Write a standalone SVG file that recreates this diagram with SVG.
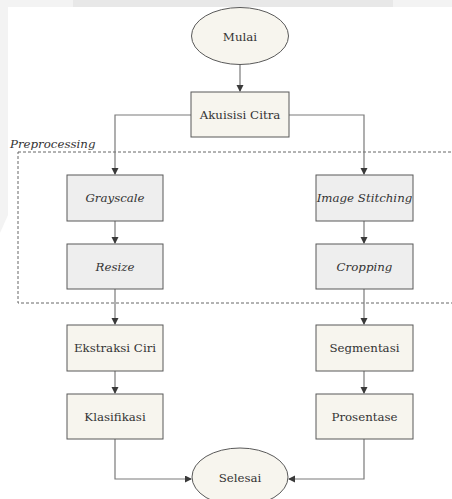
<svg xmlns="http://www.w3.org/2000/svg" width="452" height="499" viewBox="0 0 452 499">
<style>
.bg{fill:#ffffff}
.box{fill:#f7f5ee;stroke:#595959;stroke-width:1}
.gbox{fill:#eeeeee;stroke:#595959;stroke-width:1}
.term{fill:#f7f5ee;stroke:#595959;stroke-width:1}
.c{fill:none;stroke:#7a7a7a;stroke-width:1.2}
.dash{fill:none;stroke:#666666;stroke-width:1;stroke-dasharray:3 2}
</style>
<defs>
<marker id="ah" markerWidth="8" markerHeight="8" refX="6" refY="3.5" orient="auto" markerUnits="userSpaceOnUse">
<path d="M0,0 L7,3.5 L0,7 Z" fill="#3a3a3a"/>
</marker>
</defs>
<rect class="bg" x="0" y="0" width="452" height="499"/>
<rect x="0" y="0" width="452" height="7" fill="#f3f3f3"/>
<rect x="73" y="0" width="320" height="7" fill="#e8e8e8"/>
<polygon points="0,7 8,7 8,215 0,233" fill="#f3f3f3"/>

<g font-family="'DejaVu Serif', 'Liberation Serif', serif" font-size="11.8" fill="#333333" text-anchor="middle" dominant-baseline="central">
<g id="preprocessing">
<rect class="dash" x="18" y="152" width="450" height="151"/>
<text font-style="italic" x="10" y="144" text-anchor="start">Preprocessing</text>
</g>

<g id="connectors">
<path class="c" d="M240,64 V91" marker-end="url(#ah)"/>
<path class="c" d="M191,115 H115 V174" marker-end="url(#ah)"/>
<path class="c" d="M289,115 H364 V174" marker-end="url(#ah)"/>
<path class="c" d="M115,221 V243" marker-end="url(#ah)"/>
<path class="c" d="M364,221 V243" marker-end="url(#ah)"/>
<path class="c" d="M115,289 V324" marker-end="url(#ah)"/>
<path class="c" d="M364,289 V324" marker-end="url(#ah)"/>
<path class="c" d="M115,371 V393" marker-end="url(#ah)"/>
<path class="c" d="M364,371 V393" marker-end="url(#ah)"/>
<path class="c" d="M115,439 V479 H191" marker-end="url(#ah)"/>
<path class="c" d="M364,439 V479 H289" marker-end="url(#ah)"/>
</g>

<g id="mulai">
<ellipse class="term" cx="240" cy="36" rx="48.5" ry="28.5"/>
<text x="240" y="37">Mulai</text>
</g>
<g id="akuisisi">
<rect class="box" x="191" y="92" width="98" height="45"/>
<text x="240" y="114.5">Akuisisi Citra</text>
</g>
<g id="grayscale">
<rect class="gbox" x="67" y="175" width="96" height="46"/>
<text font-style="italic" x="115" y="198">Grayscale</text>
</g>
<g id="resize">
<rect class="gbox" x="67" y="244" width="96" height="45"/>
<text font-style="italic" x="115" y="267">Resize</text>
</g>
<g id="stitching">
<rect class="gbox" x="316" y="175" width="97" height="46"/>
<text font-style="italic" x="364.5" y="198">Image Stitching</text>
</g>
<g id="cropping">
<rect class="gbox" x="316" y="244" width="97" height="45"/>
<text font-style="italic" x="364.5" y="267">Cropping</text>
</g>
<g id="ekstraksi">
<rect class="box" x="67" y="325" width="96" height="46"/>
<text x="115" y="348">Ekstraksi Ciri</text>
</g>
<g id="klasifikasi">
<rect class="box" x="67" y="394" width="96" height="45"/>
<text x="115" y="416.5">Klasifikasi</text>
</g>
<g id="segmentasi">
<rect class="box" x="316" y="325" width="97" height="46"/>
<text x="364.5" y="348">Segmentasi</text>
</g>
<g id="prosentase">
<rect class="box" x="316" y="394" width="97" height="45"/>
<text x="364.5" y="416.5">Prosentase</text>
</g>
<g id="selesai">
<ellipse class="term" cx="240" cy="477" rx="48" ry="29"/>
<text x="240" y="478">Selesai</text>
</g>
</g>
</svg>
